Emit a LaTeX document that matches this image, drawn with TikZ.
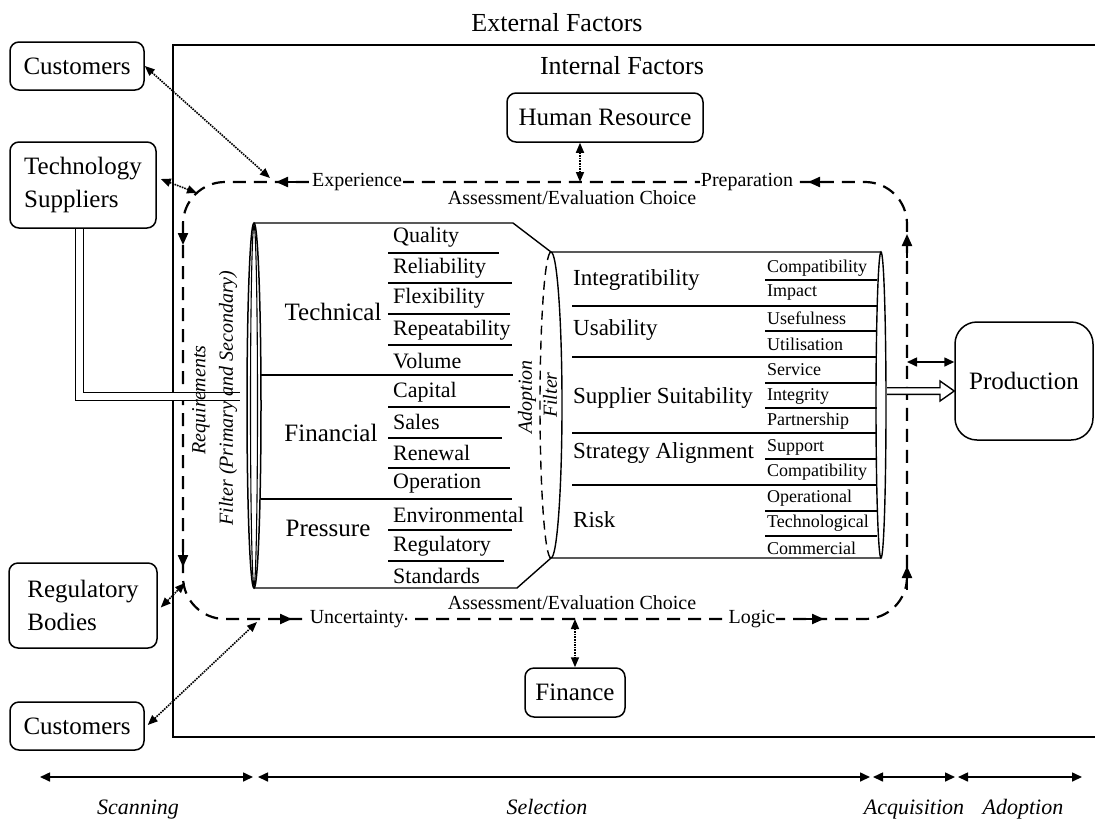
\documentclass[tikz,border=0pt]{standalone}
\usepackage{fontspec}
\setmainfont{Liberation Serif}
\usetikzlibrary{arrows.meta,calc}
\newcommand\szTitle{\fontsize{26}{30}\selectfont}
\newcommand\szMain{\fontsize{25}{33}\selectfont}
\newcommand\szSub{\fontsize{22}{26}\selectfont}
\newcommand\szRight{\fontsize{23}{27}\selectfont}
\newcommand\szSmall{\fontsize{18}{21}\selectfont}
\newcommand\szLoop{\fontsize{20}{24}\selectfont}
\newcommand\szIt{\itshape\fontsize{22}{26}\selectfont}
\newcommand\szRot{\itshape\fontsize{20}{24}\selectfont}
\begin{document}
\begin{tikzpicture}[x=1pt,y=-1pt,
  box/.style={draw, line width=1.5pt, rounded corners=9pt, inner sep=0pt, font=\szMain},
  dotc/.style={densely dotted, line width=1.6pt, {Triangle[length=10pt,width=8pt]}-{Triangle[length=10pt,width=8pt]}},
  solc/.style={line width=1.6pt, {Triangle[length=10pt,width=9pt]}-{Triangle[length=10pt,width=9pt]}},
  loopline/.style={line width=2.2pt, dash pattern=on 13pt off 8pt},
  lhead/.style={line width=2.2pt, -{Triangle[length=12pt,width=10pt]}},
  cyl/.style={line width=1.4pt},
  lbl/.style={fill=white, inner sep=1pt, font=\szLoop},
  sub/.style={anchor=west, inner sep=0pt, font=\szSub},
  rsub/.style={anchor=west, inner sep=0pt, font=\szSmall},
  rmain/.style={anchor=west, inner sep=0pt, font=\szRight},
  cmain/.style={inner sep=0pt, font=\szMain},
  phase/.style={inner sep=0pt, anchor=base, font=\szIt},
]
\useasboundingbox (0,0) rectangle (1095,820);

% titles and frame
\node[inner sep=0pt, font=\szTitle] (ext) at (557,23) {External Factors};
\node[inner sep=0pt, font=\szTitle] (int) at (622,66) {Internal Factors};
\draw[line width=1.9pt] (1095,45) -- (173,45) -- (173,737) -- (1095,737);

% external boxes
\node[box, minimum width=134pt, minimum height=48pt] (cust1) at (77,66) {Customers};
\node[box, minimum width=146pt, minimum height=86pt, align=left] (tech) at (83,185) {Technology\\Suppliers};
\node[box, minimum width=148pt, minimum height=85pt, align=left] (reg) at (83,605.5) {Regulatory\\Bodies};
\node[box, minimum width=134pt, minimum height=48pt] (cust2) at (77,726) {Customers};

% internal boxes
\node[box, minimum width=196pt, minimum height=49pt] (hr) at (605,117.5) {Human Resource};
\node[box, minimum width=100pt, minimum height=49pt] (fin) at (575,692.5) {Finance};
\node[box, rounded corners=22pt, minimum width=138pt, minimum height=118pt] (prod) at (1024,381) {Production};

% dashed loop
\draw[loopline, rounded corners=42pt] (183,182) rectangle (907,619);
\coordinate (pT1) at (270,178);
\coordinate (pC1) at (197,193);
\coordinate (pC2) at (185,583);
\coordinate (pB1) at (257,622);
\coordinate (pHR) at (580,182);
\coordinate (pFin) at (575,619);
\coordinate (pProd) at (907,362);
\draw[lhead] (298,182) -- (276,182);
\draw[lhead] (830,182) -- (808,182);
\draw[lhead] (183,224) -- (183,245);
\draw[lhead] (183,545) -- (183,567);
\draw[lhead] (268,619) -- (292,619);
\draw[lhead] (800,619) -- (824,619);
\draw[lhead] (907,258) -- (907,234);
\draw[lhead] (907,590) -- (907,566);
\node[lbl] (lexp) at (357,182) {Experience};
\node[lbl] (lprep) at (747,182) {Preparation};
\node[lbl] (lunc) at (357,619) {Uncertainty};
\node[lbl] (llog) at (752,619) {Logic};
\node[inner sep=0pt, font=\szLoop] (aec1) at (572,198) {Assessment/Evaluation Choice};
\node[inner sep=0pt, font=\szLoop] (aec2) at (572,603) {Assessment/Evaluation Choice};

% dotted connectors
\draw[dotc] (cust1.east) -- (pT1);
\draw[dotc] ($(tech.east)+(4,-6)$) -- (pC1);
\draw[dotc] ($(reg.east)+(3,2)$) -- (pC2);
\draw[dotc] ($(cust2.east)+(3,-1)$) -- (pB1);
\draw[dotc] (pHR) -- (pHR |- hr.south);
\draw[dotc] (pFin) -- (pFin |- fin.north);
\draw[solc] (pProd) -- (pProd -| prod.west);

% double line from technology suppliers
\coordinate (dlEnd) at (240,396.5);
\draw[line width=1.4pt, double distance=7pt] (tech.south -| 79.5,0) -- (79.5,396.5) -- (dlEnd);

% left cylinder
\draw[cyl] (254,223) -- (513,223) -- (551,252) -- (881,252);
\draw[cyl] (254,588) -- (517,588) -- (551,558) -- (881,558);
\draw[line width=1.5pt] (254,405.5) ellipse[x radius=7, y radius=182.5];
\draw[line width=1.1pt] (254,405.5) ellipse[x radius=3.5, y radius=180];
\draw[cyl] (261,375) -- (513,375);
\draw[cyl] (261,499) -- (512,499);
\foreach \y/\e in {253/499,283/512,314/510,345/512,407/510,438/502,468/510,530/512,561/504}
  \draw[cyl] (388,\y) -- (\e,\y);
\node[cmain] (tec) at (333,312) {Technical};
\node[cmain] (fina) at (331,433) {Financial};
\node[cmain] (pres) at (328,528) {Pressure};
\node[sub] (s1) at (393,237) {Quality};
\node[sub] (s2) at (393,268) {Reliability};
\node[sub] (s3) at (393,298) {Flexibility};
\node[sub] (s4) at (393,330) {Repeatability};
\node[sub] (s5) at (393,361) {Volume};
\node[sub] (s6) at (393,392) {Capital};
\node[sub] (s7) at (393,422) {Sales};
\node[sub] (s8) at (393,453) {Renewal};
\node[sub] (s9) at (393,484) {Operation};
\node[sub] (s10) at (393,515) {Environmental};
\node[sub] (s11) at (393,546) {Regulatory};
\node[sub] (s12) at (393,576) {Standards};

% rotated filter labels
\node[inner sep=0pt, font=\szRot, rotate=90] (req) at (201,400) {Requirements};
\node[inner sep=0pt, font=\szRot, rotate=90] (filt) at (228,398) {Filter (Primary and Secondary)};

% adoption filter
\draw[cyl, dash pattern=on 9pt off 6pt] (551,252) arc[start angle=-90, end angle=-270, x radius=11, y radius=153];
\draw[cyl] (551,252) arc[start angle=-90, end angle=90, x radius=11, y radius=153];
\node[inner sep=0pt, font=\szRot, rotate=90] (adop) at (527,397) {Adoption};
\node[inner sep=0pt, font=\szRot, rotate=90] (adfi) at (550,395) {Filter};

% right cylinder
\draw[cyl] (881,405) ellipse[x radius=5, y radius=153];
\foreach \y in {306,357,433,485}
  \draw[cyl] (572,\y) -- (877,\y);
\foreach \y in {280,331,383,408,459,511,536}
  \draw[cyl] (765,\y) -- (877,\y);
\node[rmain] (r1) at (573,280) {Integratibility};
\node[rmain] (r2) at (573,330) {Usability};
\node[rmain] (r3) at (573,398) {Supplier Suitability};
\node[rmain] (r4) at (573,453) {Strategy Alignment};
\node[rmain] (r5) at (573,520) {Risk};
\node[rsub] (q1) at (767,268) {Compatibility};
\node[rsub] (q2) at (767,293) {Impact};
\node[rsub] (q3) at (767,318) {Usefulness};
\node[rsub] (q4) at (767,344) {Utilisation};
\node[rsub] (q5) at (767,370) {Service};
\node[rsub] (q6) at (767,396) {Integrity};
\node[rsub] (q7) at (767,421) {Partnership};
\node[rsub] (q8) at (767,447) {Support};
\node[rsub] (q9) at (767,472) {Compatibility};
\node[rsub] (q10) at (767,498) {Operational};
\node[rsub] (q11) at (767,523) {Technological};
\node[rsub] (q12) at (767,548) {Commercial};

% hollow arrow to production
\coordinate (hTip) at ($(prod.west)+(0,10)$);
\draw[line width=1.4pt, fill=white] (887,387.7) -- (940,387.7) -- (940,381) -- (hTip) -- (940,401) -- (940,394.3) -- (887,394.3);

% phase arrows
\coordinate (t0) at (40,777);
\coordinate (t1) at (253,777);
\coordinate (t1b) at (258,777);
\coordinate (t2) at (870,777);
\coordinate (t2b) at (873,777);
\coordinate (t3) at (955,777);
\coordinate (t3b) at (958,777);
\coordinate (t4) at (1082,777);
\draw[solc] (t0) -- (t1);
\draw[solc] (t1b) -- (t2);
\draw[solc] (t2b) -- (t3);
\draw[solc] (t3b) -- (t4);
\node[phase] (ph1) at (138,814) {Scanning};
\node[phase] (ph2) at (547,814) {Selection};
\node[phase] (ph3) at (914,814) {Acquisition};
\node[phase] (ph4) at (1023,814) {Adoption};
\end{tikzpicture}
\end{document}
